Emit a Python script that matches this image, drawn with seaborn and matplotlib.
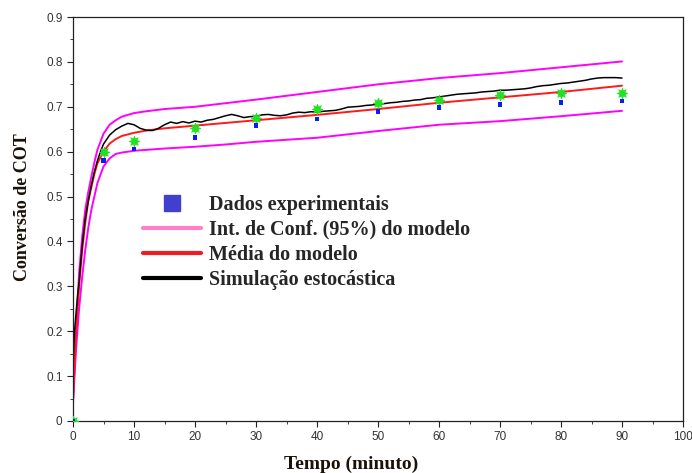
import numpy as np
import pandas as pd
import seaborn as sns
import matplotlib.pyplot as plt
from matplotlib.lines import Line2D
from matplotlib.ticker import MultipleLocator

sns.set_style('ticks')
plt.rcParams['font.family'] = ['Liberation Sans', 'DejaVu Sans']

# experimental points
t_exp = [0, 5, 10, 20, 30, 40, 50, 60, 70, 80, 90]
dados_exp = [0, 0.581, 0.606, 0.632, 0.658, 0.673, 0.689, 0.699, 0.705, 0.710, 0.713]
dados_verde = [0, 0.600, 0.624, 0.652, 0.676, 0.694, 0.708, 0.716, 0.726, 0.731, 0.731]

# model curves
t_mod = [0, 0.5, 1, 1.5, 2, 2.5, 3, 3.5, 4, 5, 6, 7, 8, 10, 12, 15, 20, 25, 30,
         40, 50, 60, 70, 80, 90]
media = [0.046, 0.195, 0.30, 0.38, 0.44, 0.49, 0.52, 0.55, 0.574, 0.60, 0.618, 0.628,
         0.635, 0.642, 0.647, 0.652, 0.658, 0.664, 0.670, 0.682, 0.695, 0.709, 0.721,
         0.733, 0.747]
ic_sup = [0.05, 0.20, 0.33, 0.41, 0.47, 0.51, 0.544, 0.576, 0.604, 0.64, 0.66, 0.67,
          0.678, 0.686, 0.69, 0.695, 0.70, 0.708, 0.716, 0.733, 0.75, 0.764, 0.775,
          0.788, 0.801]
ic_inf = [0.04, 0.16, 0.25, 0.32, 0.38, 0.43, 0.47, 0.50, 0.53, 0.567, 0.585, 0.595,
          0.598, 0.602, 0.604, 0.607, 0.611, 0.616, 0.622, 0.631, 0.646, 0.66, 0.668,
          0.679, 0.691]

# stochastic simulation
t_sim = [0, 0.25, 0.5, 0.75, 1, 1.5, 2, 2.5, 3, 3.5, 4, 4.5, 5, 6, 7, 8, 9] + list(range(10, 91))
simulacao = [0.12, 0.20, 0.24, 0.28, 0.31, 0.39, 0.45, 0.49, 0.525, 0.555, 0.58, 0.60,
             0.617, 0.637, 0.649, 0.657, 0.663,
             0.660, 0.652, 0.648, 0.647, 0.652, 0.660, 0.666, 0.663, 0.667, 0.664,
             0.668, 0.666, 0.670, 0.672, 0.676, 0.680, 0.683, 0.680, 0.676, 0.678,
             0.679, 0.682, 0.683, 0.681, 0.680, 0.682, 0.686, 0.688, 0.687, 0.689,
             0.688, 0.690, 0.691, 0.692, 0.695, 0.699, 0.700, 0.701, 0.703, 0.704,
             0.706, 0.707, 0.709, 0.710, 0.712, 0.713, 0.715, 0.716, 0.719, 0.720,
             0.722, 0.724, 0.726, 0.728, 0.729, 0.730, 0.731, 0.733, 0.734, 0.735,
             0.737, 0.737, 0.738, 0.739, 0.740, 0.742, 0.745, 0.747, 0.748, 0.750,
             0.752, 0.753, 0.755, 0.757, 0.759, 0.762, 0.764, 0.765, 0.765, 0.765,
             0.764]

fig = plt.figure(figsize=(6.92, 4.73), dpi=100)
ax = fig.add_axes([0.1055, 0.110, 0.8815, 0.854])

sns.lineplot(x=t_mod, y=ic_sup, color='#ff00ff', lw=1.4, estimator=None, ax=ax)
sns.lineplot(x=t_mod, y=ic_inf, color='#ff00ff', lw=1.4, estimator=None, ax=ax)
sns.lineplot(x=t_mod, y=media, color='#ff1a1a', lw=1.4, estimator=None, ax=ax)
sns.lineplot(x=t_sim, y=simulacao, color='black', lw=1.1, estimator=None, ax=ax)
sns.scatterplot(x=t_exp, y=dados_verde, marker=(8, 1, 0), s=60, color='#22e022',
                edgecolor='#22e022', linewidth=0.5, ax=ax, zorder=5)
sns.scatterplot(x=t_exp, y=dados_exp, marker='s', s=12, color='#0a1ef0',
                edgecolor='none', ax=ax, zorder=6)

ax.set_xlim(0, 100)
ax.set_ylim(0, 0.9)
ax.xaxis.set_major_locator(MultipleLocator(10))
ax.xaxis.set_minor_locator(MultipleLocator(5))
ax.yaxis.set_major_locator(MultipleLocator(0.1))
ax.yaxis.set_minor_locator(MultipleLocator(0.05))
ax.set_yticks(np.arange(0, 0.91, 0.1))
ax.set_yticklabels(['0'] + [f'{v:.1f}' for v in np.arange(0.1, 0.91, 0.1)])
ax.tick_params(which='both', direction='out', top=False, right=False,
               labelsize=8.5, labelcolor='#333333', color='#222222')
ax.tick_params(which='major', length=4)
ax.tick_params(which='minor', length=2.5)
for s in ax.spines.values():
    s.set_color('#222222')
    s.set_linewidth(0.9)

serif = ['Liberation Serif', 'DejaVu Serif']
ax.set_xlabel('Tempo (minuto)', family=serif, fontweight='bold', fontsize=14,
              color='#1a1208')
ax.set_ylabel('Conversão de COT', family=serif, fontweight='bold', fontsize=13,
              color='#1a1208')
ax.xaxis.set_label_coords(0.456, -0.085)
ax.yaxis.set_label_coords(-0.069, 0.53)

handles = [
    Line2D([], [], marker='s', ls='none', markersize=12, color='#4040cc'),
    Line2D([], [], color='#ff80c8', lw=3),
    Line2D([], [], color='#ee1c24', lw=3),
    Line2D([], [], color='black', lw=3),
]
labels = ['Dados experimentais', 'Int. de Conf. (95%) do modelo',
          'Média do modelo', 'Simulação estocástica']
ax.legend(handles, labels, loc='upper left', bbox_to_anchor=(0.085, 0.605),
          frameon=False, handlelength=2.9, handletextpad=0.4, labelspacing=0.26,
          prop={'family': serif, 'weight': 'bold', 'size': 14.5})

fig.savefig('out.png', dpi=100)
